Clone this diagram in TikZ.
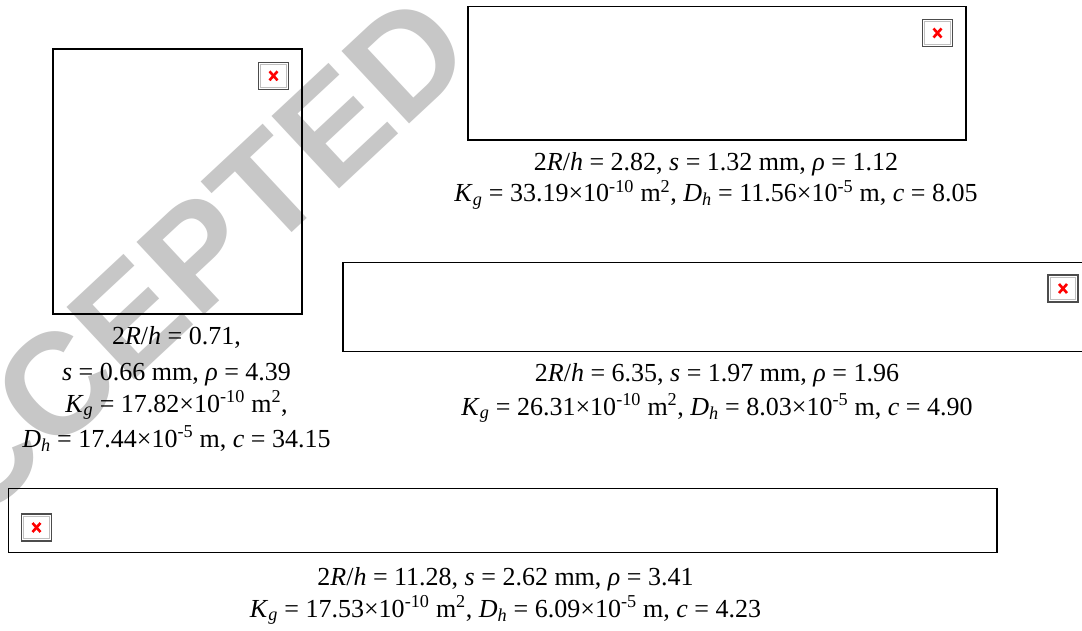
\documentclass[tikz,border=0pt]{standalone}
\usepackage{fontspec}
\setmainfont{Liberation Serif}
\newfontfamily\wmfont{Liberation Sans}
\usetikzlibrary{calc}
\newcommand{\vi}[1]{\textit{#1}}
\newcommand{\isub}[1]{\textsubscript{\textit{#1}}}
\newcommand{\sps}[1]{\textsuperscript{#1}}
\tikzset{
  frame/.style={draw=black, line width=1.3pt, inner sep=0pt},
  icon/.style={draw=black!70, fill=white, line width=1.2pt, minimum width=30pt, minimum height=27pt, inner sep=0pt,
    path picture={
      \draw[black!25, line width=1pt] ($(path picture bounding box.south west)+(2.2,-2.2)$) rectangle ($(path picture bounding box.north east)+(-2.2,2.2)$);
      \draw[red, line width=2.6pt]
      ($(path picture bounding box.center)+(-4,-4.5)$) -- ($(path picture bounding box.center)+(4,4.5)$)
      ($(path picture bounding box.center)+(-4,4.5)$) -- ($(path picture bounding box.center)+(4,-4.5)$);}},
  capline/.style={anchor=base, font=\fontsize{26}{31}\selectfont, inner sep=0pt},
  watermark/.style={text=black!22, font=\wmfont\bfseries\fontsize{144}{144}\selectfont, inner sep=0pt, rotate=43}
}
\begin{document}
\begin{tikzpicture}[x=1pt,y=-1pt]
\useasboundingbox (0,0) rectangle (1082,630);
\clip (0,0) rectangle (1082,630);
\fill[white] (0,0) rectangle (1082,630);
\node[watermark] (wm) at (155,293) {ACCEPTED};
% boxes
\node[frame, minimum width=249pt, minimum height=265pt] (bA) at (177.5,181.5) {};
\node[frame, minimum width=498pt, minimum height=133.5pt] (bB) at (717,73.3) {};
\node[frame, minimum width=757pt, minimum height=89pt] (bC) at (721.5,307) {};
\node[frame, minimum width=988.7pt, minimum height=64.4pt] (bD) at (502.7,520.5) {};
% broken-image icons
\node[icon] (iA) at (273.5,75.8) {};
\node[icon] (iB) at (937.5,33) {};
\node[icon] (iC) at (1063,288.5) {};
\node[icon] (iD) at (36.5,527.5) {};
% caption A
\node[capline] (cA1) at (176.5,344) {2\vi{R}/\vi{h} = 0.71,};
\node[capline] (cA2) at (176.5,380.5) {\vi{s} = 0.66 mm, \vi{ρ} = 4.39};
\node[capline] (cA3) at (176.5,412) {\vi{K}\isub{g} = 17.82×10\sps{-10} m\sps{2},};
\node[capline] (cA4) at (176.5,447) {\vi{D}\isub{h} = 17.44×10\sps{-5} m, \vi{c} = 34.15};
% caption B
\node[capline] (cB1) at (716,170) {2\vi{R}/\vi{h} = 2.82, \vi{s} = 1.32 mm, \vi{ρ} = 1.12};
\node[capline] (cB2) at (716,201.7) {\vi{K}\isub{g} = 33.19×10\sps{-10} m\sps{2}, \vi{D}\isub{h} = 11.56×10\sps{-5} m, \vi{c} = 8.05};
% caption C
\node[capline] (cC1) at (717,381.7) {2\vi{R}/\vi{h} = 6.35, \vi{s} = 1.97 mm, \vi{ρ} = 1.96};
\node[capline] (cC2) at (717,415) {\vi{K}\isub{g} = 26.31×10\sps{-10} m\sps{2}, \vi{D}\isub{h} = 8.03×10\sps{-5} m, \vi{c} = 4.90};
% caption D
\node[capline] (cD1) at (505.5,585) {2\vi{R}/\vi{h} = 11.28, \vi{s} = 2.62 mm, \vi{ρ} = 3.41};
\node[capline] (cD2) at (505.5,617) {\vi{K}\isub{g} = 17.53×10\sps{-10} m\sps{2}, \vi{D}\isub{h} = 6.09×10\sps{-5} m, \vi{c} = 4.23};
\end{tikzpicture}
\end{document}
